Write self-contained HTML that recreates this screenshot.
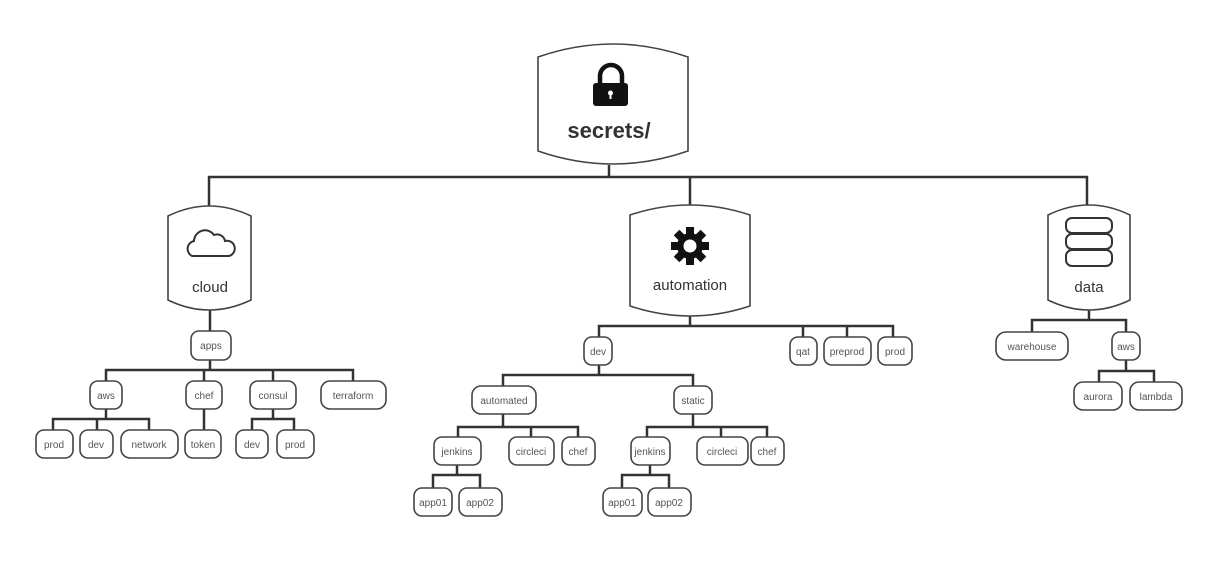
<!DOCTYPE html>
<html><head><meta charset="utf-8"><style>
html,body{margin:0;padding:0;background:#fff;width:1230px;height:586px;overflow:hidden}
svg{display:block}
.l{stroke:#333;stroke-width:2.5;fill:none}
.n{fill:#fff;stroke:#444;stroke-width:1.6}
.t{font-family:"Liberation Sans",sans-serif;font-size:10px;fill:#555;text-anchor:middle}
.b{font-family:"Liberation Sans",sans-serif;fill:#333;text-anchor:middle}
</style></head><body>
<svg width="1230" height="586" viewBox="0 0 1230 586">
<!-- connectors -->
<path class="l" d="M609,165V177M209,196V177H1087V205M209,177V206M690,177V205"/>
<path class="l" d="M210,310V331M210,360V370M106,381V370H353V381M204,370V381M273,370V381"/>
<path class="l" d="M106,409V419M53,430V419H149V430M97,419V430M204,409V430M273,409V419M252,430V419H294V430"/>
<path class="l" d="M690,316V326M599,337V326H893V337M803,326V337M847,326V337"/>
<path class="l" d="M599,364V375M503,386V375H693V386"/>
<path class="l" d="M503,414V427M458,437V427H578V437M531,427V437"/>
<path class="l" d="M457,465V475M433,488V475H480V488"/>
<path class="l" d="M693,414V427M647,437V427H767V437M721,427V437"/>
<path class="l" d="M650,465V475M622,488V475H669V488"/>
<path class="l" d="M1089,310V320M1032,332V320H1126V332M1126,360V371M1099,382V371H1154V382"/>
<!-- big nodes -->
<path class="n" d="M538,57 Q613,31 688,57 L688,151 Q613,177 538,151Z"/>
<path class="n" d="M168,216 Q209,196 251,216 L251,300 Q209,320 168,300Z"/>
<path class="n" d="M630,215 Q690,195 750,215 L750,306 Q690,326 630,306Z"/>
<path class="n" d="M1048,215 Q1089,195 1130,215 L1130,300 Q1089,320 1048,300Z"/>
<!-- lock -->
<path d="M600,85V76a11,11 0 0 1 22,0V85" fill="none" stroke="#111" stroke-width="4.5"/>
<rect x="593" y="83" width="35" height="23" rx="3" fill="#111"/>
<circle cx="610.5" cy="93" r="2.5" fill="#fff"/><rect x="609.5" y="93" width="2" height="6" fill="#fff"/>
<text class="b" x="609" y="138" font-size="22" font-weight="bold">secrets/</text>
<!-- cloud -->
<path d="M192,256 a8,8 0 0 1 2,-15 a11,11 0 0 1 20,-6 a8,8 0 0 1 11,6 a7,7 0 0 1 4,15 Z" fill="none" stroke="#333" stroke-width="2"/>
<text class="b" x="210" y="292" font-size="15">cloud</text>
<!-- gear -->
<g transform="translate(690,246)" fill="#111">
<circle r="13"/>
<g><rect x="-4" y="-19" width="8" height="38"/><rect x="-4" y="-19" width="8" height="38" transform="rotate(45)"/><rect x="-4" y="-19" width="8" height="38" transform="rotate(90)"/><rect x="-4" y="-19" width="8" height="38" transform="rotate(135)"/></g>
<circle r="6.5" fill="#fff"/>
</g>
<text class="b" x="690" y="290" font-size="15">automation</text>
<!-- db -->
<g fill="#fff" stroke="#333" stroke-width="2">
<rect x="1066" y="218" width="46" height="15" rx="6"/>
<rect x="1066" y="234" width="46" height="15" rx="6"/>
<rect x="1066" y="250" width="46" height="16" rx="6"/>
</g>
<text class="b" x="1089" y="292" font-size="15">data</text>
<!-- small nodes -->
<g class="n">
<rect x="191" y="331" width="40" height="29" rx="8"/>
<rect x="90" y="381" width="32" height="28" rx="8"/>
<rect x="186" y="381" width="36" height="28" rx="8"/>
<rect x="250" y="381" width="46" height="28" rx="8"/>
<rect x="321" y="381" width="65" height="28" rx="9"/>
<rect x="36" y="430" width="37" height="28" rx="8"/>
<rect x="80" y="430" width="33" height="28" rx="8"/>
<rect x="121" y="430" width="57" height="28" rx="9"/>
<rect x="185" y="430" width="36" height="28" rx="8"/>
<rect x="236" y="430" width="32" height="28" rx="8"/>
<rect x="277" y="430" width="37" height="28" rx="8"/>
<rect x="584" y="337" width="28" height="28" rx="8"/>
<rect x="790" y="337" width="27" height="28" rx="8"/>
<rect x="824" y="337" width="47" height="28" rx="8"/>
<rect x="878" y="337" width="34" height="28" rx="8"/>
<rect x="472" y="386" width="64" height="28" rx="9"/>
<rect x="674" y="386" width="38" height="28" rx="8"/>
<rect x="434" y="437" width="47" height="28" rx="8"/>
<rect x="509" y="437" width="45" height="28" rx="8"/>
<rect x="562" y="437" width="33" height="28" rx="8"/>
<rect x="631" y="437" width="39" height="28" rx="8"/>
<rect x="697" y="437" width="51" height="28" rx="8"/>
<rect x="751" y="437" width="33" height="28" rx="8"/>
<rect x="414" y="488" width="38" height="28" rx="8"/>
<rect x="459" y="488" width="43" height="28" rx="8"/>
<rect x="603" y="488" width="39" height="28" rx="8"/>
<rect x="648" y="488" width="43" height="28" rx="8"/>
<rect x="996" y="332" width="72" height="28" rx="10"/>
<rect x="1112" y="332" width="28" height="28" rx="8"/>
<rect x="1074" y="382" width="48" height="28" rx="9"/>
<rect x="1130" y="382" width="52" height="28" rx="9"/>
</g>
<g class="t">
<text x="211" y="349">apps</text>
<text x="106" y="399">aws</text>
<text x="204" y="399">chef</text>
<text x="273" y="399">consul</text>
<text x="353" y="399">terraform</text>
<text x="54" y="448">prod</text>
<text x="96" y="448">dev</text>
<text x="149" y="448">network</text>
<text x="203" y="448">token</text>
<text x="252" y="448">dev</text>
<text x="295" y="448">prod</text>
<text x="598" y="355">dev</text>
<text x="803" y="355">qat</text>
<text x="847" y="355">preprod</text>
<text x="895" y="355">prod</text>
<text x="504" y="404">automated</text>
<text x="693" y="404">static</text>
<text x="457" y="455">jenkins</text>
<text x="531" y="455">circleci</text>
<text x="578" y="455">chef</text>
<text x="650" y="455">jenkins</text>
<text x="722" y="455">circleci</text>
<text x="767" y="455">chef</text>
<text x="433" y="506">app01</text>
<text x="480" y="506">app02</text>
<text x="622" y="506">app01</text>
<text x="669" y="506">app02</text>
<text x="1032" y="350">warehouse</text>
<text x="1126" y="350">aws</text>
<text x="1098" y="400">aurora</text>
<text x="1156" y="400">lambda</text>
</g>
</svg>
</body></html>
